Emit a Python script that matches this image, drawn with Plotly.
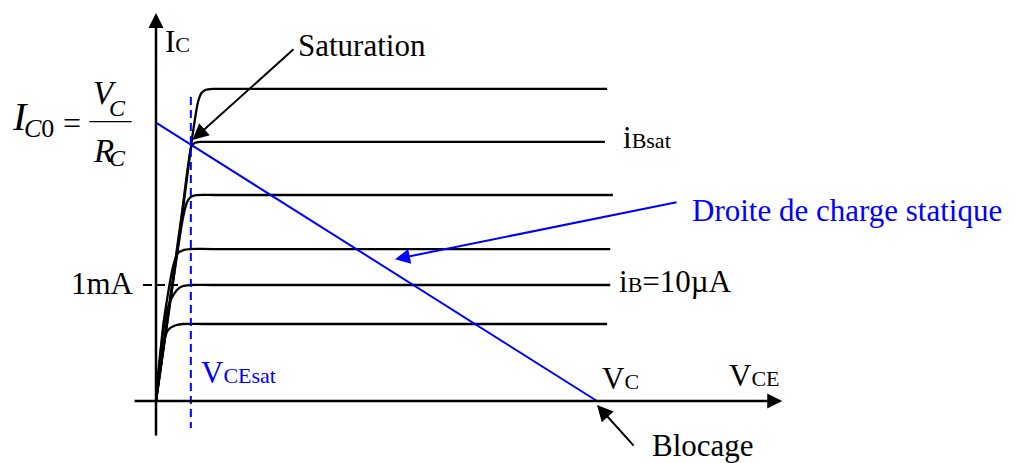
import plotly.graph_objects as go

# Output characteristics I_C(V_CE) of a bipolar transistor, one curve per base current
# V_CE in volts, I_C in mA
ce_v_1 = [0, 0.045, 0.129, 0.272, 0.431, 0.612, 1.1, 10.23]
ce_i_1 = [0, 0.155, 0.440, 0.612, 0.651, 0.664, 0.664, 0.664]

ce_v_2 = [0, 0.045, 0.136, 0.272, 0.476, 0.612, 0.771, 1.3, 10.30]
ce_i_2 = [0, 0.224, 0.526, 0.810, 0.957, 0.991, 1.0, 1.0, 1.0]

ce_v_3 = [0, 0.068, 0.159, 0.249, 0.385, 0.499, 0.635, 0.771, 1.3, 10.30]
ce_i_3 = [0, 0.267, 0.638, 0.871, 1.155, 1.276, 1.302, 1.310, 1.310, 1.310]

ce_v_4 = [0, 0.227, 0.476, 0.612, 0.696, 0.771, 0.907, 1.4, 10.36]
ce_i_4 = [0, 0.612, 1.259, 1.578, 1.707, 1.754, 1.774, 1.776, 1.776]

ce_v_5 = [0, 0.295, 0.590, 0.737, 0.810, 0.896, 0.998, 1.5, 10.18]
ce_i_5 = [0, 0.819, 1.629, 2.052, 2.198, 2.228, 2.233, 2.233, 2.233]

ce_v_6 = [0, 0.317, 0.619, 0.846, 0.959, 1.032, 1.134, 1.270, 1.8, 10.23]
ce_i_6 = [0, 0.836, 1.675, 2.336, 2.586, 2.655, 2.683, 2.690, 2.690, 2.690]

curves_v = [ce_v_1, ce_v_2, ce_v_3, ce_v_4, ce_v_5, ce_v_6]
curves_i = [ce_i_1, ce_i_2, ce_i_3, ce_i_4, ce_i_5, ce_i_6]

# Static load line: from (0, I_C0 = V_C/R_C) to (V_C, 0)
V_C = 10.0
I_C0 = 2.4
load_v = [0, V_C]
load_i = [I_C0, 0]

V_CESAT = 0.79        # saturation voltage
I_MARK = 1.0          # 1 mA level (i_B = 10 uA)

# Axis extents of the drawn arrows
X_AXIS = (-0.52, 14.2)
Y_AXIS = (-0.31, 3.345)

SERIF = "Liberation Serif"
BLUE = "#0000FF"
FS = 31
SUB = 22


def sub(s):
    return "<span style='font-size:%dpx'>%s</span>" % (SUB, s)


fig = go.Figure()

for v, i in zip(curves_v, curves_i):
    fig.add_trace(go.Scatter(x=v, y=i, mode="lines",
                             line=dict(color="black", width=2.3, shape="spline", smoothing=0.9),
                             hoverinfo="skip", showlegend=False))

fig.add_trace(go.Scatter(x=load_v, y=load_i, mode="lines",
                         line=dict(color=BLUE, width=2), showlegend=False))

# V_CEsat dashed marker
fig.add_trace(go.Scatter(x=[V_CESAT, V_CESAT], y=[2.62, -0.233], mode="lines",
                         line=dict(color=BLUE, width=2, dash="8px,5px"), showlegend=False))

# 1 mA dashed marker
fig.add_trace(go.Scatter(x=[-0.295, 0.545], y=[I_MARK, I_MARK], mode="lines",
                         line=dict(color="black", width=2, dash="9px,4px"), showlegend=False))

# fraction bar of V_C / R_C
fig.add_shape(type="line", x0=-1.512, x1=-0.551, y0=2.408, y1=2.408,
              line=dict(color="black", width=1.4))


def arrow(x, y, ax, ay, color="black", width=2, size=1.5):
    fig.add_annotation(x=x, y=y, ax=ax, ay=ay, xref="x", yref="y", axref="x", ayref="y",
                       text="", showarrow=True, arrowhead=2, arrowsize=size,
                       arrowwidth=width, arrowcolor=color, standoff=0, startstandoff=0)


# axes
arrow(0, Y_AXIS[1], 0, Y_AXIS[0], width=2.5, size=1.2)
arrow(X_AXIS[1], 0, X_AXIS[0], 0, width=2.5, size=1.2)

# pointers
arrow(0.828, 2.25, 3.152, 3.043, width=2, size=1.6)
arrow(5.42, 1.222, 11.837, 1.716, color=BLUE, width=2, size=1.5)
arrow(V_C, -0.034, 10.862, -0.397, width=2, size=1.6)


def label(x, y, text, color="black", size=FS, xanchor="left"):
    fig.add_annotation(x=x, y=y, xref="x", yref="y", text=text, showarrow=False,
                       xanchor=xanchor, yanchor="middle",
                       font=dict(family=SERIF, size=size, color=color))


label(0.159, 3.10, "I" + sub("C"))
label(3.175, 3.069, "Saturation")
label(10.54, 2.27, "i" + sub("Bsat"))
label(12.11, 1.638, "Droite de charge statique", color=BLUE)
label(10.45, 1.03, "i" + sub("B") + "=10µA")
label(-0.454, 1.01, "1mA", xanchor="right")
label(0.975, 0.25, "V" + sub("CEsat"), color=BLUE)
label(10.07, 0.19, "V" + sub("C"))
label(12.95, 0.22, "V" + sub("CE"))
label(11.2, -0.387, "Blocage")

# I_C0 = V_C / R_C
label(-3.311, 2.453, "<i>I</i>", size=40)
label(-2.642, 2.353, "<i>C</i>0", size=26, xanchor="center")
label(-1.916, 2.395, "=", size=32, xanchor="center")
label(-1.474, 2.659, "<i>V</i>", size=33)
label(-0.873, 2.523, "<i>C</i>", size=24, xanchor="center")
label(-1.474, 2.155, "<i>R</i>", size=33)
label(-0.873, 2.099, "<i>C</i>", size=24, xanchor="center")

PX_V = 44.1
PX_I = 116.0
fig.update_layout(
    width=1015, height=463,
    margin=dict(l=0, r=0, t=0, b=0),
    paper_bgcolor="white", plot_bgcolor="white",
    xaxis=dict(range=[-156 / PX_V, (1015 - 156) / PX_V], visible=False, fixedrange=True),
    yaxis=dict(range=[(401 - 463) / PX_I, 401 / PX_I], visible=False, fixedrange=True),
    showlegend=False,
)

fig.write_html("out.html")
